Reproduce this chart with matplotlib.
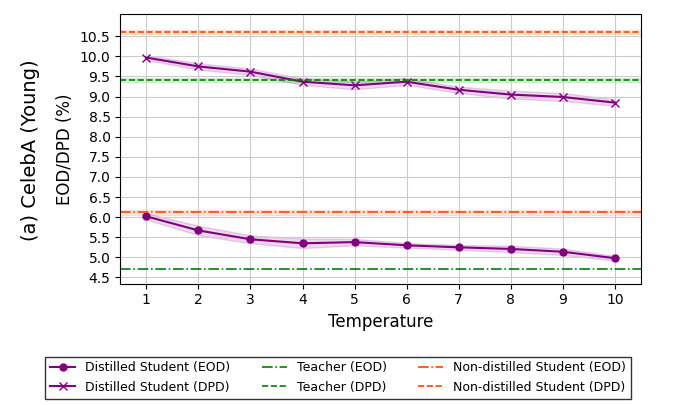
import matplotlib
matplotlib.use("Agg")
import matplotlib.pyplot as plt
import numpy as np

temps = [1, 2, 3, 4, 5, 6, 7, 8, 9, 10]
eod = [6.02, 5.67, 5.45, 5.35, 5.38, 5.30, 5.25, 5.21, 5.14, 4.98]
dpd = [9.97, 9.75, 9.62, 9.37, 9.28, 9.37, 9.17, 9.05, 8.99, 8.85]
eod_std = [0.08, 0.12, 0.10, 0.12, 0.08, 0.06, 0.06, 0.08, 0.08, 0.06]
dpd_std = [0.06, 0.08, 0.08, 0.08, 0.10, 0.08, 0.08, 0.10, 0.10, 0.08]
teacher_eod, teacher_dpd = 4.70, 9.42
nondist_eod, nondist_dpd = 6.12, 10.60

fig = plt.figure(figsize=(6.76, 4.05), dpi=100)
ax = fig.add_axes([0.178, 0.30, 0.77, 0.665])
purple = "#800080"
t = np.array(temps)
ax.plot(t, eod, color=purple, marker="o", ms=5, lw=1.5, label="Distilled Student (EOD)")
ax.fill_between(t, np.array(eod) - eod_std, np.array(eod) + eod_std, color=purple, alpha=0.15)
ax.plot(t, dpd, color=purple, marker="x", ms=6, lw=1.5, label="Distilled Student (DPD)")
ax.fill_between(t, np.array(dpd) - dpd_std, np.array(dpd) + dpd_std, color=purple, alpha=0.15)
ax.axhline(teacher_eod, color="green", ls="-.", lw=1.2, label="Teacher (EOD)")
ax.axhline(teacher_dpd, color="green", ls="--", lw=1.2, label="Teacher (DPD)")
ax.axhspan(teacher_dpd - 0.05, teacher_dpd + 0.05, color="green", alpha=0.12)
ax.axhline(nondist_eod, color="orangered", ls="-.", lw=1.2, label="Non-distilled Student (EOD)")
ax.axhspan(nondist_eod - 0.06, nondist_eod + 0.06, color="orangered", alpha=0.12)
ax.axhline(nondist_dpd, color="orangered", ls="--", lw=1.2, label="Non-distilled Student (DPD)")
ax.axhspan(nondist_dpd - 0.05, nondist_dpd + 0.05, color="orangered", alpha=0.12)

ax.set_xlim(0.5, 10.5)
ax.set_ylim(4.35, 11.05)
ax.set_xticks(temps)
ax.set_yticks(np.arange(4.5, 10.51, 0.5))
ax.grid(True, color="#cccccc")
ax.tick_params(labelsize=10)
ax.set_xlabel("Temperature", fontsize=12)
ax.set_ylabel("EOD/DPD (%)", fontsize=12)
fig.text(0.045, 0.63, "(a) CelebA (Young)", rotation=90, fontsize=14, va="center", ha="center")

h, l = ax.get_legend_handles_labels()
order = [0, 1, 2, 3, 4, 5]
fig.legend(h, l, loc="lower center", bbox_to_anchor=(0.5, 0.0), ncol=3, fontsize=9,
           frameon=True, edgecolor="black", fancybox=False, columnspacing=2.5)
fig.savefig("out.png", dpi=100)
